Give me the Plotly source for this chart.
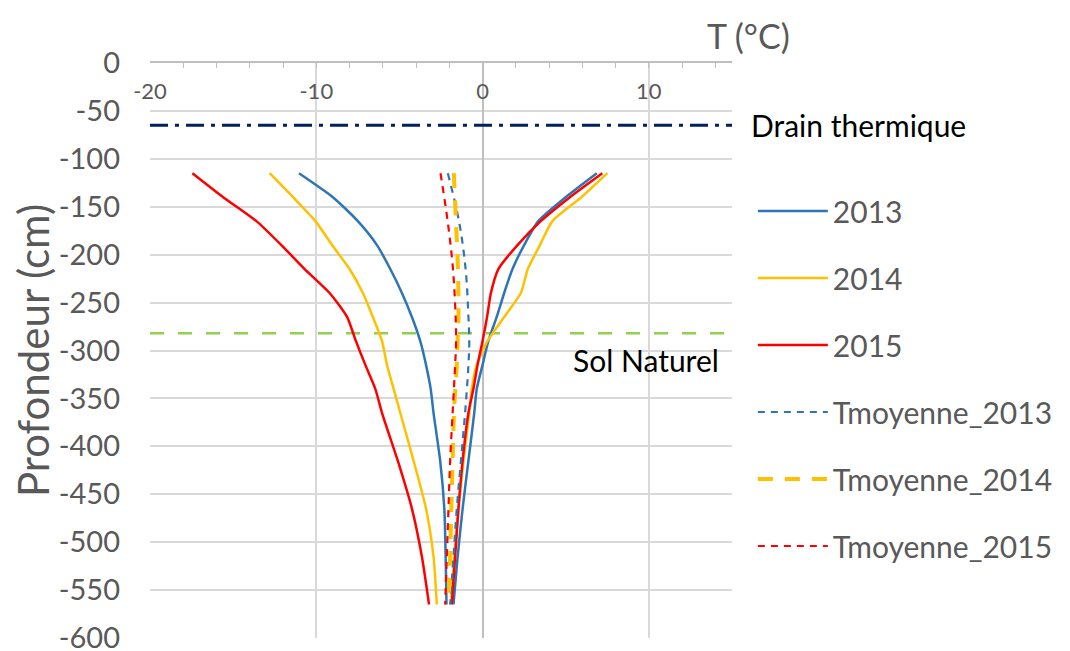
import plotly.graph_objects as go

# Depths (cm)
depth = [-115, -140, -165, -190, -215, -240, -265, -290, -315, -340, -365, -415, -465, -515, -565]

# Min (left branch) and max (right branch) temperature profiles, °C
t2013_min = [-11.04, -9.0, -7.5, -6.35, -5.55, -4.85, -4.25, -3.75, -3.4, -3.12, -2.95, -2.55, -2.3, -2.22, -2.17]
t2013_max = [6.87, 5.0, 3.35, 2.5, 1.8, 1.3, 0.85, 0.35, 0.0, -0.35, -0.5, -0.85, -1.2, -1.5, -1.75]
t2014_min = [-12.8, -11.4, -10.05, -9.05, -8.0, -7.2, -6.6, -6.05, -5.75, -5.35, -4.95, -4.15, -3.4, -2.95, -2.75]
t2014_max = [7.5, 5.95, 4.2, 3.45, 2.72, 2.3, 1.3, 0.3, -0.35, -0.65, -0.8, -1.15, -1.45, -1.7, -1.9]
t2015_min = [-17.45, -15.6, -13.6, -12.1, -10.7, -9.2, -8.15, -7.62, -7.05, -6.45, -6.05, -5.1, -4.25, -3.65, -3.22]
t2015_max = [7.2, 5.25, 3.5, 2.1, 0.95, 0.5, 0.27, 0.0, -0.3, -0.55, -0.85, -1.2, -1.45, -1.65, -1.85]

# Mean temperature profiles
depth_moy = [-115, -165, -215, -265, -290, -315, -365, -415, -465, -515, -565]
tmoy_2013 = [-2.09, -1.42, -1.02, -0.85, -0.80, -0.85, -1.05, -1.3, -1.55, -1.75, -1.95]
tmoy_2014 = [-1.73, -1.6, -1.48, -1.45, -1.5, -1.55, -1.72, -1.8, -1.88, -1.95, -2.05]
tmoy_2015 = [-2.53, -2.1, -1.78, -1.62, -1.59, -1.65, -1.8, -1.95, -2.05, -2.15, -2.25]

# Reference levels
x_span = [-20, 15]
drain_depth = -65
sol_depth = -282

x_ticks = [-20, -10, 0, 10]
x_ticktext = ["-20", "-10", "0", "10"]
y_ticks = [0, -50, -100, -150, -200, -250, -300, -350, -400, -450, -500, -550, -600]
y_ticktext = ["0", "-50", "-100", "-150", "-200", "-250", "-300", "-350", "-400",
              "-450", "-500", "-550", "-600"]

BLUE = "#2E75B6"
YELLOW = "#FFC000"
RED = "#FF0000"
GREY_TXT = "#595959"
FONT = "Lato"

fig = go.Figure()

# Horizontal reference lines
fig.add_trace(go.Scatter(x=x_span, y=[drain_depth] * 2, mode="lines",
                         line=dict(color="#002060", width=3, dash="18px,7px,4px,7px"),
                         showlegend=False, hoverinfo="skip"))
fig.add_trace(go.Scatter(x=x_span, y=[sol_depth] * 2, mode="lines",
                         line=dict(color="#92D050", width=2.5, dash="14px,14px"),
                         showlegend=False, hoverinfo="skip"))


def envelope(tmin, tmax):
    xs = list(tmin) + [None] + list(tmax)
    ys = list(depth) + [None] + list(depth)
    return xs, ys


for name, tmin, tmax, col in [("2013", t2013_min, t2013_max, BLUE),
                              ("2014", t2014_min, t2014_max, YELLOW),
                              ("2015", t2015_min, t2015_max, RED)]:
    xs, ys = envelope(tmin, tmax)
    fig.add_trace(go.Scatter(x=xs, y=ys, mode="lines", name=name, legendgroup=name,
                             line=dict(color=col, width=2.5, shape="spline", smoothing=0.6),
                             connectgaps=False))

fig.add_trace(go.Scatter(x=tmoy_2013, y=depth_moy, mode="lines", name="Tmoyenne_2013",
                         legendgroup="m13",
                         line=dict(color=BLUE, width=2.2, dash="7px,6px", shape="spline")))
fig.add_trace(go.Scatter(x=tmoy_2014, y=depth_moy, mode="lines", name="Tmoyenne_2014",
                         legendgroup="m14",
                         line=dict(color=YELLOW, width=4, dash="15px,12px", shape="spline")))
fig.add_trace(go.Scatter(x=tmoy_2015, y=depth_moy, mode="lines", name="Tmoyenne_2015",
                         legendgroup="m15",
                         line=dict(color=RED, width=2.2, dash="7px,6px", shape="spline")))

# The page body adds an 8px offset, so positions are given in figure coordinates.
FW, FH = 1062, 651
PL, PT, PW, PH = 142, 55, 586, 575

fig.update_layout(
    width=FW, height=FH,
    margin=dict(l=PL, r=FW - PL - PW, t=PT, b=FH - PT - PH),
    paper_bgcolor="white", plot_bgcolor="white",
    font=dict(family=FONT, color=GREY_TXT),
    legend=dict(x=(749 - PL) / PW, xanchor="left", y=1 - (177 - PT) / PH, yanchor="top",
                font=dict(size=30, color=GREY_TXT, family=FONT),
                itemwidth=70, tracegroupgap=25, traceorder="grouped",
                bgcolor="rgba(0,0,0,0)"),
    xaxis=dict(side="top", range=x_span, tickvals=x_ticks, ticktext=x_ticktext,
               automargin=False,
               showgrid=True, gridcolor="#d9d9d9", gridwidth=1.5,
               zeroline=True, zerolinecolor="#bfbfbf", zerolinewidth=2,
               showline=True, linecolor="#bfbfbf", linewidth=1.5,
               ticks="inside", ticklen=5, tickcolor="#bfbfbf",
               minor=dict(dtick=2, ticks="inside", ticklen=5, tickcolor="#bfbfbf", showgrid=False),
               ticklabelposition="inside", ticklabelstandoff=17, ticklabeloverflow="allow",
               tickfont=dict(size=22, color=GREY_TXT, family=FONT)),
    yaxis=dict(range=[-600, 0], tickvals=y_ticks, ticktext=y_ticktext,
               automargin=False,
               showgrid=True, gridcolor="#d9d9d9", gridwidth=1.5,
               zeroline=False, showline=False, ticks="",
               ticklabelstandoff=29, ticklabeloverflow="allow",
               tickfont=dict(size=29, color=GREY_TXT, family=FONT),
               title=dict(text="Profondeur (cm)", standoff=10,
                          font=dict(size=42, color=GREY_TXT, family=FONT))),
    annotations=[
        dict(text="T (°C)", xref="paper", yref="paper", x=(745 - PL) / PW, y=1 + (PT - 27) / PH,
             yanchor="middle", xanchor="center", showarrow=False,
             font=dict(size=34, color=GREY_TXT, family=FONT)),
        dict(text="Drain thermique", xref="paper", yref="y", x=(745 - PL) / PW, y=drain_depth,
             xanchor="left", yanchor="middle", showarrow=False,
             font=dict(size=30, color="black", family=FONT)),
        dict(text="Sol Naturel", xref="x", yref="paper", x=(650 - 485) / 16.75, y=(PT + PH - 352) / PH,
             xanchor="center", yanchor="middle", showarrow=False,
             font=dict(size=30, color="black", family=FONT)),
    ],
)

fig.write_html("out.html")
